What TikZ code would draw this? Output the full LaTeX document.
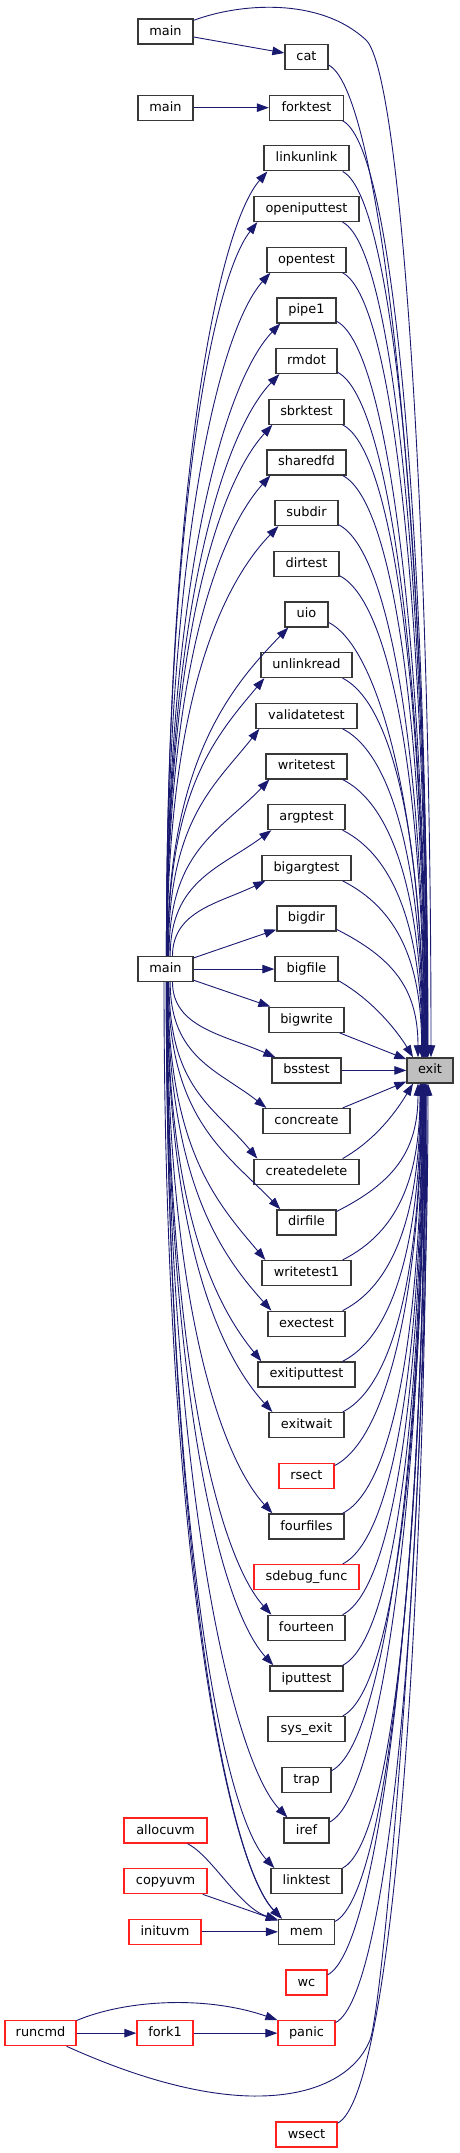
\documentclass[tikz,border=0pt]{standalone}
\usepackage{fontspec}
\setmainfont{DejaVu Sans}
\usetikzlibrary{arrows.meta}
\definecolor{edgecol}{HTML}{191970}
\definecolor{nodeborder}{HTML}{383838}
\definecolor{exitfill}{HTML}{BFBFBF}
\definecolor{redborder}{HTML}{FF2020}
\newcommand\nodefont{\fontsize{12.9pt}{15pt}\selectfont}
\tikzset{
  nb/.style={draw=nodeborder, line width=1.3pt, minimum height=25pt, inner sep=0pt,
    text height=9.5pt, text depth=2.4pt, font=\nodefont, fill=white},
  nr/.style={nb, draw=redborder},
  nx/.style={nb, fill=exitfill},
  edge/.style={draw=edgecol, line width=0.9pt, -{Triangle[length=12pt,width=8.5pt]}},
}
\newcommand\RightNode[5]{\node[#5, minimum width=#3pt] (#1) at (306.5,{-(57+50.67*#2)}) {#4};}
\newcommand\LeftNode[6]{\node[#6, minimum width=#4pt] (#1) at (#3,{-(57+50.67*#2)}) {#5};}
\newcommand\mup[4]{%
 \pgfmathsetmacro\mxa{165.5+#4}%
 \pgfmathsetmacro\mya{-956.56}%
 \pgfmathsetmacro\mxb{306.5-#3/2+4}%
 \pgfmathsetmacro\myb{-(57+50.67*#2+12.5)}%
 \pgfmathsetmacro\mca{\mya+0.6*(\myb-\mya)}%
 \pgfmathsetmacro\mcx{\mxb-min(56,0.5*(\mxb-\mxa))}%
 \pgfmathsetmacro\mcy{\myb-min(58,0.3*(\myb-\mya))}%
 \draw[edge] ([xshift=#4pt]mainb.north) .. controls (\mxa,\mca) and (\mcx,\mcy) .. ([xshift=4pt]#1.south west);}
\newcommand\mdown[4]{%
 \pgfmathsetmacro\mxa{165.5+#4}%
 \pgfmathsetmacro\mya{-981.56}%
 \pgfmathsetmacro\mxb{306.5-#3/2+4}%
 \pgfmathsetmacro\myb{-(57+50.67*#2-12.5)}%
 \pgfmathsetmacro\mca{\mya+0.6*(\myb-\mya)}%
 \pgfmathsetmacro\mcx{\mxb-min(56,0.5*(\mxb-\mxa))}%
 \pgfmathsetmacro\mcy{\myb+min(58,0.3*(\mya-\myb))}%
 \draw[edge] ([xshift=#4pt]mainb.south) .. controls (\mxa,\mca) and (\mcx,\mcy) .. ([xshift=4pt]#1.north west);}
\newcommand\eup[3]{%
 \pgfmathsetmacro\eL{0.5*(1058-57-50.67*#2)}%
 \draw[edge] (#1.-20) .. controls +(55,-28) and +(0,\eL) .. ([xshift=#3pt]exit.north);}
\newcommand\edown[3]{%
 \pgfmathsetmacro\eL{0.5*(57+50.67*#2-1083)}%
 \draw[edge] (#1.20) .. controls +(55,28) and +(0,-\eL) .. ([xshift=#3pt]exit.south);}
\begin{document}
\begin{tikzpicture}[x=1pt,y=1pt]
\useasboundingbox (0,0) rectangle (459,-2153);
% left nodes
\node[nb, minimum width=55pt] (main1) at (165.5,-31.5) {main};
\LeftNode{main2}{1}{165.5}{55}{main}{nb}
\LeftNode{mainb}{18}{165.5}{55}{main}{nb}
\LeftNode{allocuvm}{35}{165.5}{83}{allocuvm}{nr}
\LeftNode{copyuvm}{36}{165.5}{83}{copyuvm}{nr}
\LeftNode{inituvm}{37}{165}{72}{inituvm}{nr}
\LeftNode{fork1}{39}{165}{56}{fork1}{nr}
\LeftNode{runcmd}{39}{40.5}{71}{runcmd}{nr}
\LeftNode{exit}{20}{430}{46}{exit}{nx}
% right nodes
\RightNode{cat}{0}{43}{cat}{nb}
\RightNode{forktest}{1}{74}{forktest}{nb}
\RightNode{linkunlink}{2}{85}{linkunlink}{nb}
\RightNode{openiputtest}{3}{105}{openiputtest}{nb}
\RightNode{opentest}{4}{79}{opentest}{nb}
\RightNode{pipe1}{5}{59}{pipe1}{nb}
\RightNode{rmdot}{6}{61}{rmdot}{nb}
\RightNode{sbrktest}{7}{75}{sbrktest}{nb}
\RightNode{sharedfd}{8}{79}{sharedfd}{nb}
\RightNode{subdir}{9}{63}{subdir}{nb}
\RightNode{dirtest}{10}{65}{dirtest}{nb}
\RightNode{uio}{11}{43}{uio}{nb}
\RightNode{unlinkread}{12}{91}{unlinkread}{nb}
\RightNode{validatetest}{13}{101}{validatetest}{nb}
\RightNode{writetest}{14}{81}{writetest}{nb}
\RightNode{argptest}{15}{77}{argptest}{nb}
\RightNode{bigargtest}{16}{89}{bigargtest}{nb}
\RightNode{bigdir}{17}{59}{bigdir}{nb}
\RightNode{bigfile}{18}{63}{bigfile}{nb}
\RightNode{bigwrite}{19}{75}{bigwrite}{nb}
\RightNode{bsstest}{20}{69}{bsstest}{nb}
\RightNode{concreate}{21}{87}{concreate}{nb}
\RightNode{createdelete}{22}{105}{createdelete}{nb}
\RightNode{dirfile}{23}{59}{dirfile}{nb}
\RightNode{writetest1}{24}{89}{writetest1}{nb}
\RightNode{exectest}{25}{77}{exectest}{nb}
\RightNode{exitiputtest}{26}{97}{exitiputtest}{nb}
\RightNode{exitwait}{27}{75}{exitwait}{nb}
\RightNode{rsect}{28}{55}{rsect}{nr}
\RightNode{fourfiles}{29}{75}{fourfiles}{nb}
\RightNode{sdebugfunc}{30}{105}{sdebug\_func}{nr}
\RightNode{fourteen}{31}{77}{fourteen}{nb}
\RightNode{iputtest}{32}{73}{iputtest}{nb}
\RightNode{sysexit}{33}{77}{sys\_exit}{nb}
\RightNode{trap}{34}{49}{trap}{nb}
\RightNode{iref}{35}{45}{iref}{nb}
\RightNode{linktest}{36}{71}{linktest}{nb}
\RightNode{mem}{37}{56}{mem}{nb}
\RightNode{wc}{38}{41}{wc}{nr}
\RightNode{panic}{39}{57}{panic}{nr}
\RightNode{wsect}{41}{61}{wsect}{nr}
% small left edges
\draw[edge] ([yshift=-5.5pt]main1.east) -- ([yshift=4pt]cat.west);
\draw[edge] (main2.east) -- (forktest.west);
% main -> tests (upwards)
\mup{linkunlink}{2}{85}{0.9}
\mup{openiputtest}{3}{105}{0.9}
\mup{opentest}{4}{79}{1}
\mup{pipe1}{5}{59}{1.1}
\mup{rmdot}{6}{61}{1.2}
\mup{sbrktest}{7}{75}{1.3}
\mup{sharedfd}{8}{79}{1.4}
\mup{subdir}{9}{63}{1.6}
\mup{uio}{11}{43}{2}
\mup{unlinkread}{12}{91}{2.3}
\mup{validatetest}{13}{101}{2.8}
\mup{writetest}{14}{81}{3.5}
\mup{argptest}{15}{77}{4.7}
\mup{bigargtest}{16}{89}{7}
\draw[edge] ([yshift=-2pt]mainb.north east) -- ([yshift=2pt]bigdir.south west);
\draw[edge] (mainb.east) -- (bigfile.west);
\draw[edge] ([yshift=2pt]mainb.south east) -- ([xshift=2pt]bigwrite.north west);
% main -> tests (downwards)
\mdown{bsstest}{20}{69}{7}
\mdown{concreate}{21}{87}{4.7}
\mdown{createdelete}{22}{105}{3.5}
\mdown{dirfile}{23}{59}{2.8}
\mdown{writetest1}{24}{89}{2.3}
\mdown{exectest}{25}{77}{2}
\mdown{exitiputtest}{26}{97}{1.75}
\mdown{exitwait}{27}{75}{1.6}
\mdown{fourfiles}{29}{75}{1.3}
\mdown{fourteen}{31}{77}{1.1}
\mdown{iputtest}{32}{73}{1}
\mdown{iref}{35}{45}{0.8}
\mdown{linktest}{36}{71}{0.8}
\mdown{mem}{37}{56}{0.7}
\mdown{mem}{37}{56}{-1.5}
% vm -> mem
\draw[edge] ([xshift=22pt]allocuvm.south) .. controls (212,-1856) and (240,-1908) .. ([yshift=-1pt]mem.north west);
\draw[edge] ([xshift=-5pt]copyuvm.south east) -- ([yshift=-2pt]mem.north west);
\draw[edge] (inituvm.east) -- (mem.west);
% sh
\draw[edge] (runcmd.east) -- (fork1.west);
\draw[edge] (fork1.east) -- (panic.west);
\draw[edge] ([yshift=-0.5pt]runcmd.north east) .. controls (125,-2000) and (205,-1995) .. (panic.north west);
% -> exit from above
\draw[edge] ([yshift=-2pt]main1.north east) .. controls (240,-3) and (320,3) .. (366,-40) .. controls (402,-74) and (431,-540) .. ([xshift=1pt]exit.north);
\eup{cat}{0}{-2}
\eup{forktest}{1}{-2.4}
\eup{linkunlink}{2}{-2.8}
\eup{openiputtest}{3}{-3.2}
\eup{opentest}{4}{-3.6}
\eup{pipe1}{5}{-4}
\eup{rmdot}{6}{-4.4}
\eup{sbrktest}{7}{-4.8}
\eup{sharedfd}{8}{-5.2}
\eup{subdir}{9}{-5.6}
\eup{dirtest}{10}{-6}
\eup{uio}{11}{-6.4}
\eup{unlinkread}{12}{-6.8}
\eup{validatetest}{13}{-7.2}
\eup{writetest}{14}{-7.6}
\eup{argptest}{15}{-8}
\eup{bigargtest}{16}{-8.4}
\eup{bigdir}{17}{-12}
\draw[edge] (bigfile.-20) .. controls +(35,-20) and +(-15,25) .. ([xshift=-17pt]exit.north);
\draw[edge] ([xshift=-5pt]bigwrite.south east) -- ([yshift=-2pt]exit.north west);
\draw[edge] (bsstest.east) -- (exit.west);
% -> exit from below
\draw[edge] (concreate.20) -- ([yshift=2pt]exit.south west);
\draw[edge] (createdelete.20) .. controls +(35,20) and +(-15,-25) .. ([xshift=-17pt]exit.south);
\edown{dirfile}{23}{-12}
\edown{writetest1}{24}{-10}
\edown{exectest}{25}{-9.6}
\edown{exitiputtest}{26}{-9.2}
\edown{exitwait}{27}{-8.8}
\edown{rsect}{28}{-8.4}
\edown{fourfiles}{29}{-8}
\edown{sdebugfunc}{30}{-7.6}
\edown{fourteen}{31}{-7.2}
\edown{iputtest}{32}{-6.8}
\edown{sysexit}{33}{-6.4}
\edown{trap}{34}{-6}
\edown{iref}{35}{-5.6}
\edown{linktest}{36}{-5.2}
\edown{mem}{37}{-4.8}
\edown{wc}{38}{-4.4}
\edown{panic}{39}{-4}
\edown{wsect}{41}{-3.2}
\draw[edge] ([xshift=-10pt]runcmd.south east) .. controls (130,-2075) and (200,-2097) .. (260,-2096) .. controls (320,-2095) and (357,-2072) .. (370,-2040) .. controls (383,-2008) and (428,-1500) .. ([xshift=-2pt]exit.south);
\end{tikzpicture}
\end{document}
